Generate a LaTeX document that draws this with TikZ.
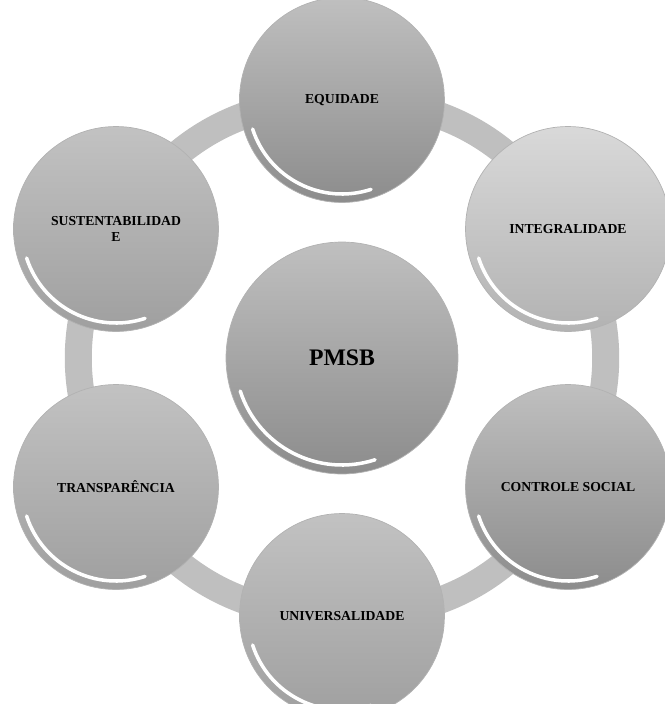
\documentclass[tikz,border=0pt]{standalone}
\usepackage{fontspec}
\setmainfont{Liberation Serif}
\usetikzlibrary{backgrounds}

\begin{document}
\begin{tikzpicture}[x=0.02cm, y=-0.02cm]
    \tikzstyle{every node}=[circle, shade, top color=gray!48, bottom color=gray!75, draw=gray!60, inner sep=1pt, minimum size=4.1cm, align=center, font=\bfseries\fontsize{7.8}{9}\selectfont, text=black]
    \tikzstyle{dark}=[top color=gray!50, bottom color=gray!90]
    \tikzstyle{light}=[top color=gray!30, bottom color=gray!60]
    \tikzstyle{band}=[gray!50, line width=0.54cm]
    \tikzstyle{gloss}=[white, line width=2pt, line cap=round]

    \useasboundingbox (0,0) rectangle (665,704);

    \node[dark, minimum size=4.64cm, font=\bfseries\fontsize{13.5}{15}\selectfont] (pmsb) at (342,358) {PMSB};
    \node[dark] (equi) at (342,100) {EQUIDADE};
    \node[light] (integ) at (568,229) {INTEGRALIDADE};
    \node[dark] (ctrl) at (568,487) {CONTROLE SOCIAL};
    \node (univ) at (342,616) {UNIVERSALIDADE};
    \node (transp) at (116,487) {TRANSPARÊNCIA};
    \node (sust) at (116,229) {SUSTENTABILIDAD\\E};

    \begin{pgfonlayer}{background}
        \draw[band] (equi.center) to[bend left=30] (integ.center) to[bend left=30] (ctrl.center)
            to[bend left=30] (univ.center) to[bend left=30] (transp.center)
            to[bend left=30] (sust.center) to[bend left=30] (equi.center);
    \end{pgfonlayer}

    \foreach \n in {equi,integ,ctrl,univ,transp,sust}
        \draw[gloss] (\n.center) ++(198:1.88cm) arc[start angle=198, end angle=288, radius=1.88cm];
    \draw[gloss] (pmsb.center) ++(198:2.14cm) arc[start angle=198, end angle=288, radius=2.14cm];
\end{tikzpicture}
\end{document}
